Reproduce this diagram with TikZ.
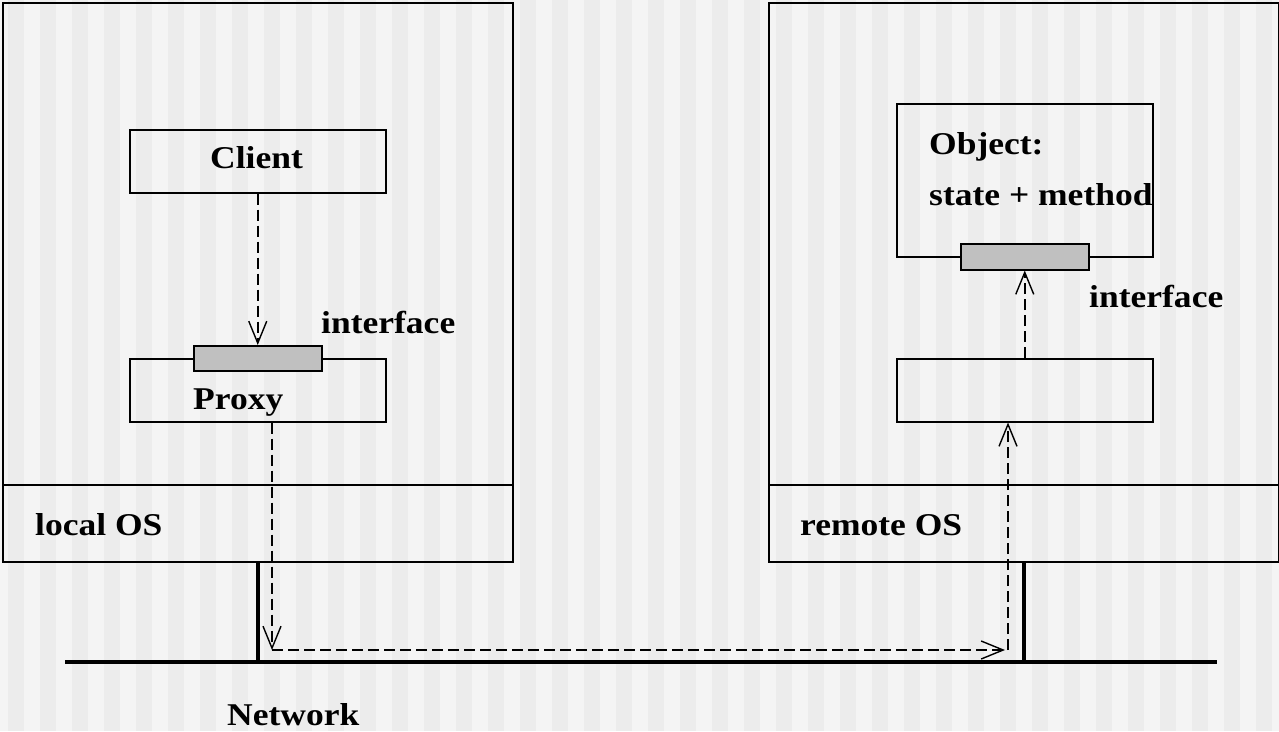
\documentclass[tikz,border=0pt]{standalone}
\usepackage{fontspec}
\setmainfont[FakeStretch=1.12]{Liberation Serif}
\usetikzlibrary{arrows.meta}
\definecolor{stripeA}{HTML}{F4F4F4}
\definecolor{stripeB}{HTML}{ECECEC}
\definecolor{iface}{HTML}{C0C0C0}
\begin{document}
\begin{tikzpicture}[x=1pt,y=-1pt,
  box/.style={draw=black, line width=1.5pt, inner sep=0pt, anchor=north west},
  ifbox/.style={box, fill=iface},
  lbl/.style={inner sep=0pt, anchor=base west, font=\fontsize{31.7}{38}\selectfont\bfseries},
  dasharrow/.style={line width=1.5pt, dash pattern=on 11pt off 5pt, -{Straight Barb[length=22pt,width=18pt,line width=1.4pt]}},
  netline/.style={line width=3.4pt},
  osline/.style={line width=1.5pt}]
\useasboundingbox (0,0) rectangle (1279,731);
\fill[stripeA] (0,0) rectangle (1279,731);
\foreach \i in {0,...,39} {\fill[stripeB] ({8+32*\i},0) rectangle ({24+32*\i},731);}

% machines
\node[box, minimum width=510pt, minimum height=559pt] (local) at (2,2) {};
\node[box, minimum width=510pt, minimum height=559pt] (remote) at (768,2) {};
\coordinate (losl) at (2,485);
\coordinate (rosl) at (768,485);
\draw[osline] (losl) -- (losl -| local.east);
\draw[osline] (rosl) -- (rosl -| remote.east);

% local side
\node[box, minimum width=256pt, minimum height=63pt] (client) at (129,129) {};
\node[box, minimum width=256pt, minimum height=63pt] (proxy) at (129,358) {};
\node[ifbox, minimum width=128pt, minimum height=25pt] (lif) at (193,345) {};

% remote side
\node[box, minimum width=256pt, minimum height=153pt] (object) at (896,103) {};
\node[ifbox, minimum width=128pt, minimum height=26pt] (rif) at (960,243) {};
\node[box, minimum width=256pt, minimum height=63pt] (skel) at (896,358) {};

% labels
\node[lbl] (tclient) at (210,168) {Client};
\node[lbl] (tproxy) at (193,409) {Proxy};
\node[lbl] (tlif) at (321,333) {interface};
\node[lbl] (tobj) at (929,154) {Object:};
\node[lbl] (tsm) at (929,205) {state + method};
\node[lbl] (trif) at (1089,307) {interface};
\node[lbl] (tlos) at (35,535) {local OS};
\node[lbl] (tros) at (800,535) {remote OS};
\node[lbl] (tnet) at (227,725) {Network};

% network
\coordinate (netL) at (65,662);
\coordinate (netR) at (1217,662);
\coordinate (tapL) at (258,662);
\coordinate (tapR) at (1024,662);
\draw[netline] (netL) -- (netR);
\draw[netline] (tapL |- local.south) -- (tapL);
\draw[netline] (tapR |- remote.south) -- (tapR);

% invocation path
\coordinate (c1) at (272,650);
\coordinate (c2) at (1008,650);
\draw[dasharrow] (client.south) -- (lif.north);
\draw[dasharrow] (c1 |- proxy.south) -- (c1);
\draw[dasharrow] (c1) -- ([xshift=-3pt]c2);
\draw[dasharrow] (c2) -- (c2 |- skel.south);
\draw[dasharrow] (skel.north) -- (rif.south);
\end{tikzpicture}
\end{document}
